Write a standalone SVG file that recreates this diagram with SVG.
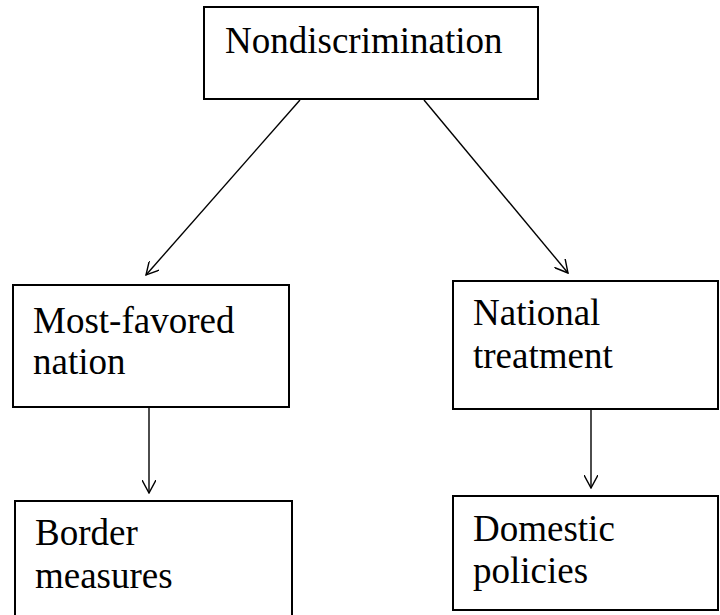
<svg xmlns="http://www.w3.org/2000/svg" width="720" height="615" viewBox="0 0 720 615">
<defs>
<style>
.box{fill:#fff;stroke:#000;stroke-width:2}
.con{stroke:#000;stroke-width:1.4;fill:none}
</style>
<marker id="arr" viewBox="0 0 14 14" refX="13" refY="7" markerWidth="14" markerHeight="14" markerUnits="userSpaceOnUse" orient="auto">
<path d="M0,0 L13,7 L0,14" fill="none" stroke="#000" stroke-width="1.4"/>
</marker>
</defs>
<rect width="720" height="615" fill="#fff"/>
<g id="connectors">
<line class="con" x1="300" y1="100" x2="146" y2="275" marker-end="url(#arr)"/>
<line class="con" x1="424" y1="100" x2="568" y2="273" marker-end="url(#arr)"/>
<line class="con" x1="149" y1="407" x2="149" y2="493" marker-end="url(#arr)"/>
<line class="con" x1="591" y1="409" x2="591" y2="488" marker-end="url(#arr)"/>
</g>
<g id="nondiscrimination">
<rect class="box" x="204" y="7" width="334" height="92"/>
<text x="225" y="53" font-size="37" font-family="Liberation Serif">Nondiscrimination</text>
</g>
<g id="mfn">
<rect class="box" x="13" y="285" width="276" height="122"/>
<text x="33" y="333" font-size="37" font-family="Liberation Serif">Most-favored</text>
<text x="33" y="374" font-size="37" font-family="Liberation Serif">nation</text>
</g>
<g id="national">
<rect class="box" x="453" y="281" width="265" height="128"/>
<text x="473" y="325" font-size="37" font-family="Liberation Serif">National</text>
<text x="473" y="368" font-size="37" font-family="Liberation Serif">treatment</text>
</g>
<g id="border">
<rect class="box" x="15" y="501" width="277" height="120"/>
<text x="35" y="545" font-size="37" font-family="Liberation Serif">Border</text>
<text x="35" y="588" font-size="37" font-family="Liberation Serif">measures</text>
</g>
<g id="domestic">
<rect class="box" x="453" y="496" width="265" height="114"/>
<text x="473" y="541" font-size="37" font-family="Liberation Serif">Domestic</text>
<text x="473" y="583" font-size="37" font-family="Liberation Serif">policies</text>
</g>
</svg>
